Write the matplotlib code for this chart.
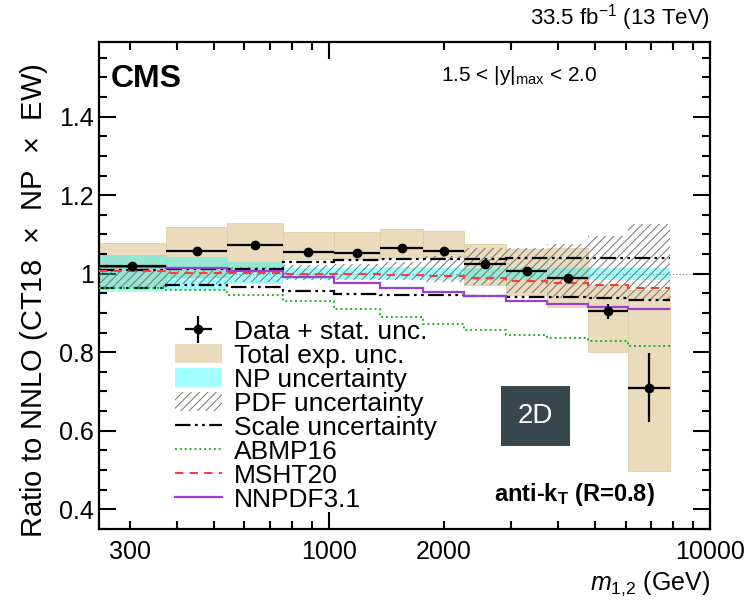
import numpy as np
import matplotlib
matplotlib.use("Agg")
import matplotlib.pyplot as plt
from matplotlib.lines import Line2D
from matplotlib.patches import Patch
from matplotlib.ticker import FixedLocator, FuncFormatter

plt.rcParams["font.family"] = ["Liberation Sans", "DejaVu Sans"]
plt.rcParams["mathtext.fontset"] = "custom"
plt.rcParams["mathtext.rm"] = "Liberation Sans"
plt.rcParams["mathtext.it"] = "Liberation Sans:italic"
plt.rcParams["mathtext.bf"] = "Liberation Sans:bold"
plt.rcParams["hatch.linewidth"] = 0.7

# bins in m_1,2 (GeV)
edges = [249, 373, 541, 756, 1029, 1361, 1769, 2265, 2915, 3735, 4793, 6080, 7850]

# data / theory ratio with stat. unc.
data = [1.019, 1.057, 1.072, 1.055, 1.053, 1.066, 1.059, 1.024, 1.006, 0.989, 0.904, 0.710]
stat = [0.004, 0.004, 0.004, 0.004, 0.004, 0.004, 0.005, 0.005, 0.006, 0.008, 0.020, 0.089]

# total experimental uncertainty (up / down)
exp_up = [0.060, 0.062, 0.057, 0.051, 0.053, 0.047, 0.051, 0.051, 0.058, 0.077, 0.066, 0.248]
exp_dn = [0.053, 0.065, 0.059, 0.017, 0.015, 0.025, 0.017, 0.054, 0.061, 0.074, 0.104, 0.212]

# NP uncertainty band
np_lo = [0.953, 0.958, 0.975, 0.986, 0.986, 0.986, 0.985, 0.985, 0.984, 0.984, 0.983, 0.983]
np_hi = [1.047, 1.042, 1.031, 1.014, 1.014, 1.016, 1.015, 1.014, 1.014, 1.014, 1.014, 1.014]

# PDF uncertainty band
pdf_lo = [0.965, 0.975, 0.978, 0.983, 0.983, 0.983, 0.979, 0.970, 0.950, 0.938, 0.935, 0.930]
pdf_hi = [1.010, 1.008, 1.018, 1.021, 1.025, 1.030, 1.045, 1.065, 1.065, 1.076, 1.095, 1.127]

# scale uncertainty
scale_lo = [0.963, 0.970, 0.966, 0.957, 0.949, 0.947, 0.947, 0.943, 0.940, 0.940, 0.939, 0.932]
scale_hi = [1.010, 1.012, 1.013, 1.031, 1.036, 1.038, 1.038, 1.038, 1.041, 1.041, 1.041, 1.041]

# alternative PDF sets
abmp16 = [0.963, 0.959, 0.947, 0.930, 0.911, 0.890, 0.871, 0.856, 0.843, 0.835, 0.828, 0.816]
msht20 = [1.006, 1.002, 1.002, 1.000, 0.998, 0.997, 0.994, 0.989, 0.981, 0.976, 0.972, 0.964]
nnpdf31 = [1.017, 1.014, 1.007, 0.991, 0.977, 0.963, 0.953, 0.942, 0.930, 0.922, 0.914, 0.910]

TAN = "#e9dbbb"
CYAN = "#00ffff"
CYAN_A = 0.36
GREEN = "#22b522"
RED = "#ff3b3b"
PURPLE = "#9b3fd1"
SCALE_LS = (0, (7, 2, 1.2, 2, 1.2, 2))

edges = np.array(edges, dtype=float)
left, right = edges[:-1], edges[1:]
centers = np.sqrt(left * right)
data = np.array(data)

fig = plt.figure(figsize=(7.49, 6.01), dpi=100)
ax = fig.add_axes([0.132, 0.120, 0.816, 0.810])

ax.axhline(1.0, color="0.5", lw=0.8, ls=(0, (1, 2)), zorder=0)

# total exp. unc. boxes
lo_exp = data - np.array(exp_dn)
ax.bar(left, data + np.array(exp_up) - lo_exp, width=right - left, bottom=lo_exp,
       align="edge", color=TAN, edgecolor="#dcc9a0", linewidth=0.5, zorder=1)

# NP band
ax.fill_between(edges, np.r_[np_lo, np_lo[-1]], np.r_[np_hi, np_hi[-1]], step="post",
                color=CYAN, alpha=CYAN_A, lw=0, zorder=2)

# PDF band (hatched)
ax.fill_between(edges, np.r_[pdf_lo, pdf_lo[-1]], np.r_[pdf_hi, pdf_hi[-1]], step="post",
                facecolor="none", edgecolor="0.45", hatch="////", lw=0, zorder=3)

# scale uncertainty and other PDFs
ax.stairs(scale_hi, edges, baseline=None, color="k", lw=1.6, ls=SCALE_LS, zorder=4)
ax.stairs(scale_lo, edges, baseline=None, color="k", lw=1.6, ls=SCALE_LS, zorder=4)
ax.stairs(abmp16, edges, baseline=None, color=GREEN, lw=1.4, ls=(0, (1, 1.5)), zorder=4)
ax.stairs(msht20, edges, baseline=None, color=RED, lw=1.5, ls=(0, (4, 3)), zorder=4)
ax.stairs(nnpdf31, edges, baseline=None, color=PURPLE, lw=1.6, zorder=4)

# data points
eb = ax.errorbar(centers, data, xerr=[centers - left, right - centers], yerr=stat,
                 fmt="o", color="k", ms=6, lw=1.6, capsize=0, zorder=6)

ax.set_xscale("log")
ax.set_xlim(249, 10000)
ax.set_ylim(0.35, 1.59)

# axes styling
for s in ax.spines.values():
    s.set_linewidth(1.6)
ax.xaxis.set_major_locator(FixedLocator([1000, 10000]))
ax.xaxis.set_minor_locator(FixedLocator([300, 400, 500, 600, 700, 800, 900,
                                         2000, 3000, 4000, 5000, 6000, 7000, 8000, 9000]))
ax.xaxis.set_major_formatter(FuncFormatter(lambda v, p: f"{v:.0f}"))
ax.xaxis.set_minor_formatter(FuncFormatter(lambda v, p: f"{v:.0f}" if v in (300, 2000) else ""))
ax.set_yticks([0.4, 0.6, 0.8, 1.0, 1.2, 1.4])
ax.set_yticklabels(["0.4", "0.6", "0.8", "1", "1.2", "1.4"])
ax.yaxis.set_minor_locator(FixedLocator(np.arange(0.35, 1.6, 0.05)))
ax.tick_params(which="both", direction="in", top=True, right=True, width=1.5, labelsize=18)
ax.tick_params(which="major", length=12)
ax.tick_params(which="minor", length=6)
ax.tick_params(axis="x", which="both", pad=8)

ax.set_xlabel("$m_{1{,}2}$ (GeV)", fontsize=18, loc="right", labelpad=4)
fig.text(0.045, 0.5, "Ratio to NNLO (CT18  $\\times$  NP  $\\times$  EW)", rotation=90,
         fontsize=21, ha="center", va="center")

# annotations
ax.text(0.02, 0.955, "CMS", transform=ax.transAxes, fontsize=23, fontweight="bold",
        ha="left", va="top")
ax.text(0.56, 0.955, "1.5 < |y|$_{\\mathregular{max}}$ < 2.0", transform=ax.transAxes,
        fontsize=15, ha="left", va="top")
fig.text(0.948, 0.945, "33.5 fb$^{-1}$ (13 TeV)", fontsize=16, ha="right", va="bottom")
ax.text(0.646, 0.07, "anti-k$_\\mathbf{T}$ (R=0.8)", transform=ax.transAxes, fontsize=17,
        fontweight="bold", ha="left", va="center")
fig.text(0.715, 0.308, "2D", fontsize=20, color="white", ha="center", va="center",
         bbox=dict(boxstyle="square,pad=0.6", facecolor="#37474f", edgecolor="none"))

# legend
handles = [
    eb,
    Patch(facecolor=TAN, edgecolor="none"),
    Patch(facecolor=CYAN, alpha=CYAN_A, edgecolor="none"),
    Patch(facecolor="none", edgecolor="0.45", hatch="////", lw=0),
    Line2D([], [], color="k", lw=1.6, ls=SCALE_LS),
    Line2D([], [], color=GREEN, lw=1.4, ls=(0, (1, 1.5))),
    Line2D([], [], color=RED, lw=1.5, ls=(0, (4, 3))),
    Line2D([], [], color=PURPLE, lw=1.6),
]
labels = ["Data + stat. unc.", "Total exp. unc.", "NP uncertainty", "PDF uncertainty",
          "Scale uncertainty", "ABMP16", "MSHT20", "NNPDF3.1"]
ax.legend(handles, labels, loc="upper left", bbox_to_anchor=(0.124, 0.43), frameon=False,
          fontsize=19, handlelength=1.8, handletextpad=0.45, labelspacing=0.0,
          borderpad=0, borderaxespad=0)

fig.savefig("out.png", dpi=100, facecolor="white")
